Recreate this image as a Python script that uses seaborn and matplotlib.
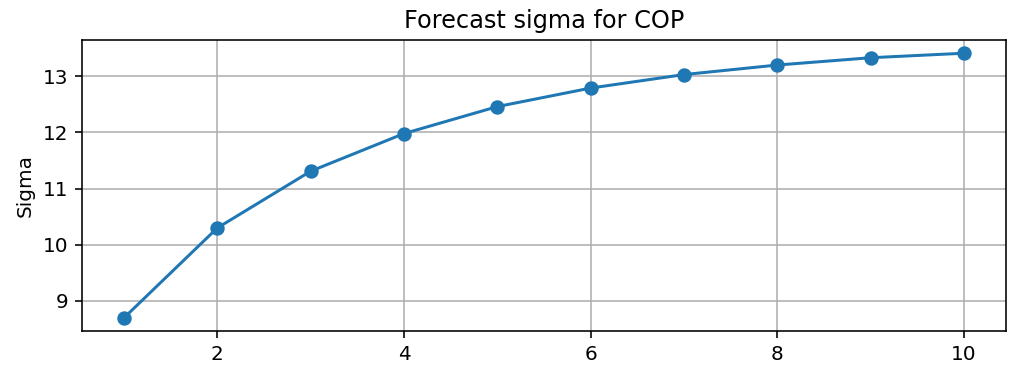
import matplotlib
matplotlib.use("Agg")
import matplotlib.pyplot as plt
import seaborn as sns
import pandas as pd

horizon = [1, 2, 3, 4, 5, 6, 7, 8, 9, 10]
sigma = [8.70, 10.30, 11.31, 11.98, 12.46, 12.79, 13.03, 13.20, 13.33, 13.41]

df = pd.DataFrame({"horizon": horizon, "sigma": sigma})

DPI = 144
fig, ax = plt.subplots(figsize=(1009 / DPI, 367 / DPI), dpi=DPI)
fig.subplots_adjust(left=0.0813, right=0.997, top=0.891, bottom=0.098)
sns.lineplot(data=df, x="horizon", y="sigma", marker="o", markersize=6,
             markeredgewidth=1.2, markeredgecolor="#1f77b4",
             color="#1f77b4", linewidth=1.5, ax=ax)
ax.grid(True)
ax.set_title("Forecast sigma for COP")
ax.set_xlabel("")
ax.set_ylabel("Sigma")
fig.savefig("out.png", dpi=DPI)
